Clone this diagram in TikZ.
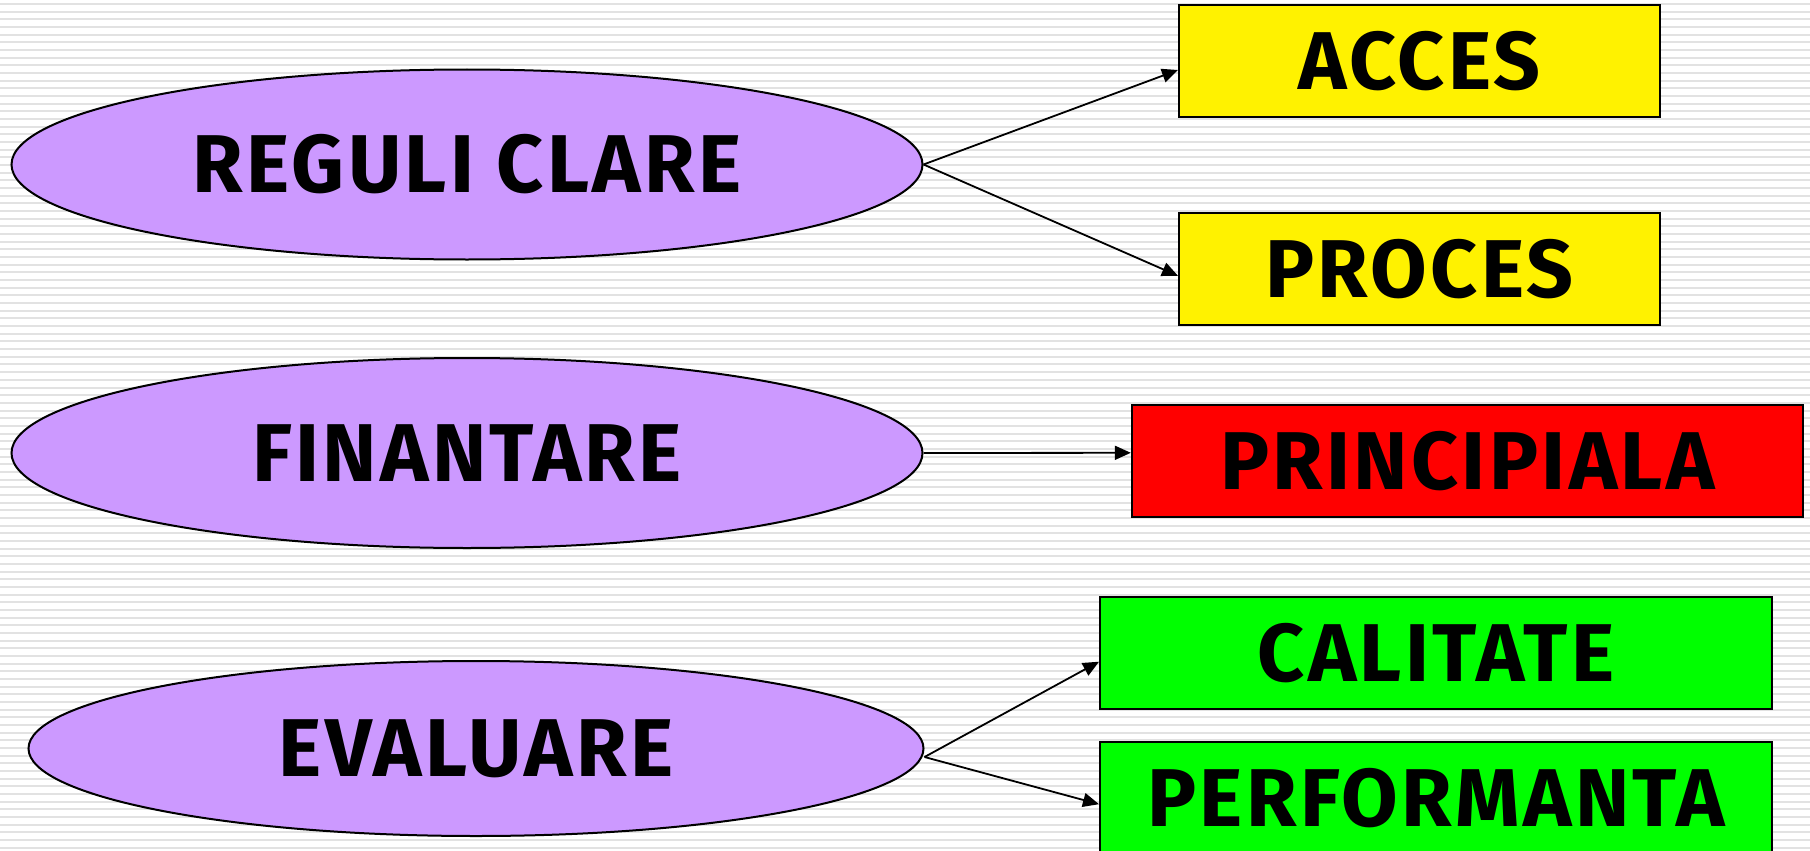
\documentclass[tikz,border=0pt]{standalone}
\usepackage{fontspec}
\setmainfont{Fira Sans}[LetterSpace=4]
\usetikzlibrary{shapes.geometric,arrows.meta}

\definecolor{lilac}{HTML}{CC99FF}
\definecolor{stripe}{HTML}{E2E2E2}

\begin{document}
\begin{tikzpicture}[x=1pt,y=-1pt,
  idea node/.style={ellipse,draw,line width=2pt,fill=lilac,inner sep=0pt,
    font=\bfseries\fontsize{82}{90}\selectfont},
  goal node/.style={rectangle,draw,line width=2pt,inner sep=0pt,minimum height=112pt,
    font=\bfseries\fontsize{82}{90}\selectfont},
  link/.style={line width=1.8pt,-{Triangle[length=16pt,width=14pt]}}]

  % striped background
  \useasboundingbox (0,0) rectangle (1810,851);
  \fill[white] (0,0) rectangle (1810,851);
  \foreach \i in {0,...,110}
    \fill[stripe] (0,{3+7.67*\i}) rectangle (1810,{5+7.67*\i});

  \node[idea node,minimum width=911pt,minimum height=190pt] (reg) at (467,164.5) {REGULI CLARE};
  \node[idea node,minimum width=911pt,minimum height=190pt] (fin) at (467,453) {FINANTARE};
  \node[idea node,minimum width=895pt,minimum height=175pt] (eval) at (476,748.5) {EVALUARE};

  \node[goal node,fill=yellow,minimum width=481pt] (acc) at (1419.5,61) {ACCES};
  \node[goal node,fill=yellow,minimum width=481pt] (proc) at (1419.5,268.8) {PROCES};
  \node[goal node,fill=red,minimum width=671pt] (princ) at (1467.3,460.8) {PRINCIPIALA};
  \node[goal node,fill=green,minimum width=672pt] (cal) at (1436,652.7) {CALITATE};
  \node[goal node,fill=green,minimum width=672pt] (perf) at (1436,797.7) {PERFORMANTA};

  \draw[link] (reg.east) -- ([yshift=-9pt]acc.west);
  \draw[link] (reg.east) -- ([yshift=-7pt]proc.west);
  \draw[link] (fin.east) -- ([yshift=8pt]princ.west);
  \draw[link] ([yshift=-8.5pt]eval.east) -- ([yshift=-9pt]cal.west);
  \draw[link] ([yshift=-8.5pt]eval.east) -- ([yshift=-6.5pt]perf.west);
\end{tikzpicture}
\end{document}
